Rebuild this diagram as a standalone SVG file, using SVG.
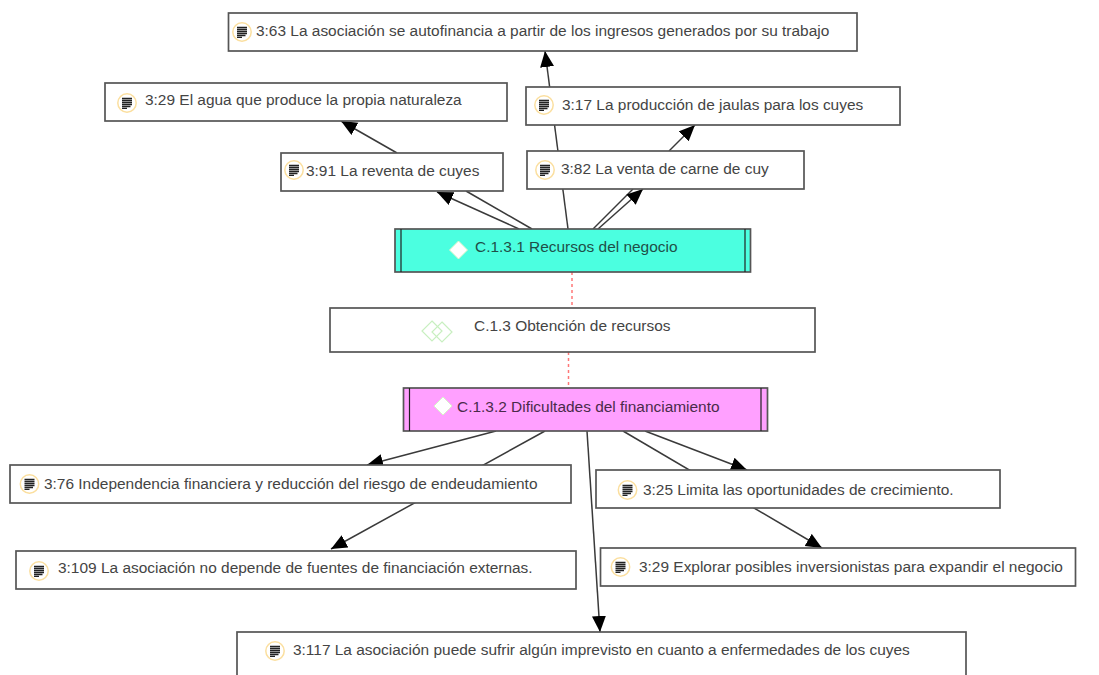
<svg xmlns="http://www.w3.org/2000/svg" width="1099" height="675" viewBox="0 0 1099 675">
<style>
.n{fill:#fff;stroke:#555;stroke-width:1.7}
.t{font-family:"Liberation Sans",Arial,sans-serif;font-size:15.45px;fill:#444}
.c{stroke:#3a3a3a;stroke-width:1.5;fill:none}
.a{marker-end:url(#ah)}
.d{stroke:#f77;stroke-width:1.5;stroke-dasharray:3 3;fill:none}
.k{stroke:#222;stroke-width:1.2}
</style>
<defs>
<marker id="ah" markerUnits="userSpaceOnUse" markerWidth="18" markerHeight="15" refX="16" refY="7" orient="auto"><path d="M0 0L16 7L0 14Z" fill="#000"/></marker>
<g id="ic"><circle r="9.200" fill="#fff" stroke="#fbdf9f" stroke-width="1.500"/><path d="M-5-4.500H5M-5-2.500H5M-5-.5H5M-5 1.500H5M-5 3.500H3.500M-5 5.300H0" stroke="#222" stroke-width="1.300"/></g>
<path id="dm" d="M0-9L9 0L0 9L-9 0Z"/>
<path id="dl" d="M0-10L10 0L0 10L-10 0Z"/>
</defs>
<g id="connectors">
<path class="c a" d="M397 153L341 121"/>
<path class="c a" d="M519 229L437 192"/>
<path class="c" d="M532 229L466 191"/>
<path class="c" d="M593 229L633 189"/>
<path class="c a" d="M598 229L643 189"/>
<path class="c a" d="M669 151L695 125"/>
<path class="c a" d="M568 229L545 51"/>
<path class="d" d="M572 272V308"/>
<path class="d" d="M568.500 352V388"/>
<path class="c a" d="M496 431L367 465"/>
<path class="c a" d="M545 431L331 549"/>
<path class="c a" d="M587 431L600 632"/>
<path class="c a" d="M623 431L822 548"/>
<path class="c a" d="M645 431L747 470"/>
</g>
<g id="n363"><rect class="n" x="228.500" y="13" width="628.500" height="38"/><use href="#ic" x="242" y="32"/><text class="t" x="256" y="36">3:63 La asociación se autofinancia a partir de los ingresos generados por su trabajo</text></g>
<g id="n329a"><rect class="n" x="105" y="83" width="402" height="38"/><use href="#ic" x="127" y="103"/><text class="t" x="145" y="105">3:29 El agua que produce la propia naturaleza</text></g>
<g id="n317"><rect class="n" x="526" y="87" width="374" height="38"/><use href="#ic" x="544" y="105"/><text class="t" x="562" y="110">3:17 La producción de jaulas para los cuyes</text></g>
<g id="n391"><rect class="n" x="281" y="153" width="222" height="38"/><use href="#ic" x="294" y="170"/><text class="t" x="306" y="176">3:91 La reventa de cuyes</text></g>
<g id="n382"><rect class="n" x="527" y="151" width="277" height="38"/><use href="#ic" x="545" y="170"/><text class="t" x="561" y="174">3:82 La venta de carne de cuy</text></g>
<g id="c131"><rect x="395" y="229" width="355.500" height="43" fill="#4bffe0" stroke="#555" stroke-width="1.700"/><path class="k" d="M401 229V272M745 229V272"/><use href="#dm" x="458.500" y="250" fill="#fff" stroke="#d8f5c8"/><text class="t" x="475" y="252" style="fill:#1f4f48">C.1.3.1 Recursos del negocio</text></g>
<g id="c13"><rect class="n" x="330" y="308" width="485" height="44"/><use href="#dl" x="432" y="331" fill="none" stroke="#c8efc0" stroke-width="1.200"/><use href="#dl" x="442" y="332" fill="none" stroke="#c8efc0" stroke-width="1.200"/><text class="t" x="474" y="331">C.1.3 Obtención de recursos</text></g>
<g id="c132"><rect x="403.500" y="388" width="364" height="43" fill="#ffa0ff" stroke="#555" stroke-width="1.700"/><path class="k" d="M409.500 388V431M761 388V431"/><use href="#dm" x="443" y="406" fill="#fff" stroke="#d8f5c8"/><text class="t" x="457" y="412" style="fill:#4a2a4a">C.1.3.2 Dificultades del financiamiento</text></g>
<g id="n376"><rect class="n" x="10" y="465" width="561" height="38"/><use href="#ic" x="29.500" y="484"/><text class="t" x="44" y="489">3:76 Independencia financiera y reducción del riesgo de endeudamiento</text></g>
<g id="n325"><rect class="n" x="596" y="470" width="404" height="38"/><use href="#ic" x="627.500" y="490"/><text class="t" x="643" y="495">3:25 Limita las oportunidades de crecimiento.</text></g>
<g id="n3109"><rect class="n" x="16" y="551" width="560" height="38"/><use href="#ic" x="39" y="571"/><text class="t" x="58" y="573">3:109 La asociación no depende de fuentes de financiación externas.</text></g>
<g id="n329b"><rect class="n" x="600.500" y="548" width="475" height="38"/><use href="#ic" x="620.500" y="567"/><text class="t" x="639" y="572">3:29 Explorar posibles inversionistas para expandir el negocio</text></g>
<g id="n3117"><rect class="n" x="237" y="632" width="729" height="60"/><use href="#ic" x="275" y="651"/><text class="t" x="293" y="655">3:117 La asociación puede sufrir algún imprevisto en cuanto a enfermedades de los cuyes</text></g>
</svg>
